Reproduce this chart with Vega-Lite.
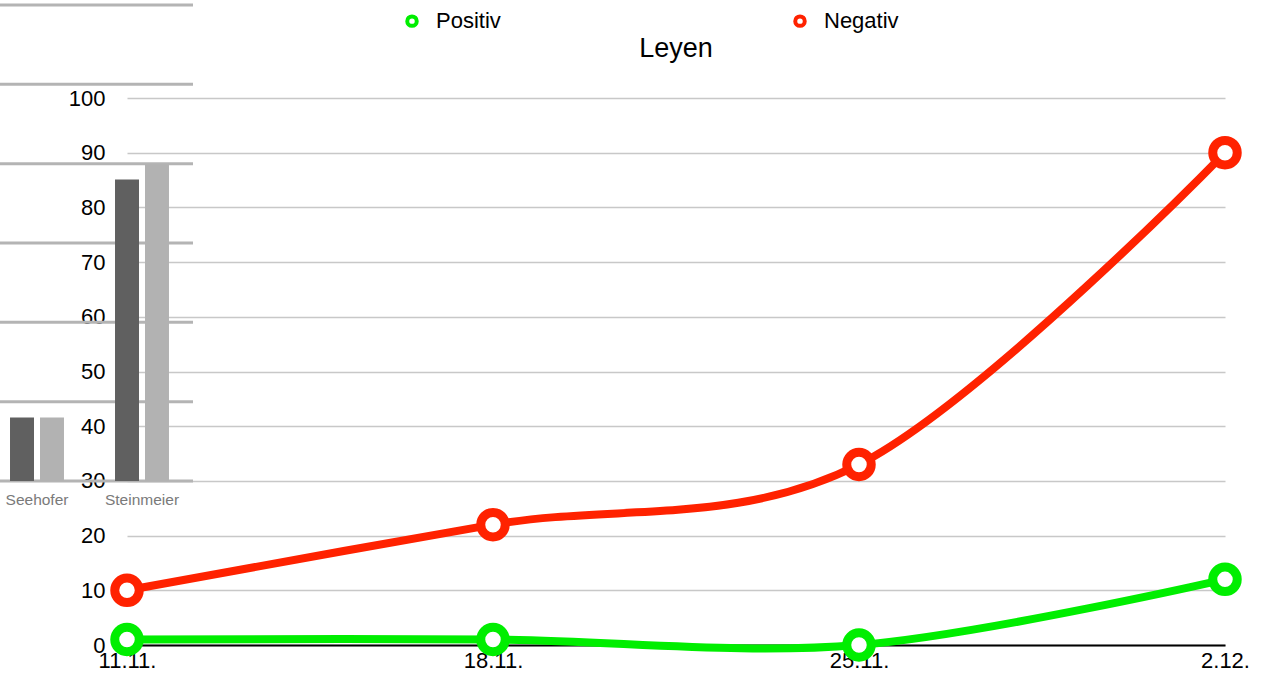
{
  "$schema": "https://vega.github.io/schema/vega-lite/v6.json",
  "width": 1098,
  "height": 547,
  "autosize": {"type": "none"},
  "padding": {"left": 127, "top": 98, "right": 56, "bottom": 39},
  "background": "white",
  "config": {"font": "Liberation Sans", "view": {"stroke": null}},
  "title": {"text": "Leyen", "fontSize": 27, "fontWeight": "normal", "color": "black", "font": "Liberation Sans", "baseline": "alphabetic", "frame": "group", "anchor": "middle", "offset": -80},
  "datasets": {
    "grid": [{"g": 0}, {"g": 20}, {"g": 40}, {"g": 60}, {"g": 80}, {"g": 100}, {"g": 120}],
    "bars": [
      {"name": "Seehofer", "series": "A", "value": 16},
      {"name": "Seehofer", "series": "B", "value": 16},
      {"name": "Steinmeier", "series": "A", "value": 76},
      {"name": "Steinmeier", "series": "B", "value": 80}
    ],
    "names": [{"name": "Seehofer"}, {"name": "Steinmeier"}],
    "lines": [
      {"date": "11.11.", "series": "Positiv", "value": 1},
      {"date": "18.11.", "series": "Positiv", "value": 1},
      {"date": "25.11.", "series": "Positiv", "value": 0},
      {"date": "2.12.", "series": "Positiv", "value": 12},
      {"date": "11.11.", "series": "Negativ", "value": 10},
      {"date": "18.11.", "series": "Negativ", "value": 22},
      {"date": "25.11.", "series": "Negativ", "value": 33},
      {"date": "2.12.", "series": "Negativ", "value": 90}
    ]
  },
  "layer": [
    {
      "layer": [
        {
          "data": {"name": "grid"},
          "mark": {"type": "rule", "color": "#b4b4b4", "strokeWidth": 3, "clip": false},
          "encoding": {
            "x": {"datum": 0, "type": "quantitative", "scale": {"domain": [0, 1], "range": [-127, 66]}, "axis": null},
            "x2": {"datum": 1},
            "y": {"field": "g", "type": "quantitative", "scale": {"domain": [0, 120], "range": [383, -93], "nice": false, "zero": true}, "axis": null}
          }
        },
        {
          "data": {"name": "bars"},
          "mark": {"type": "bar", "clip": false},
          "encoding": {
            "x": {"field": "name", "type": "nominal", "scale": {"domain": ["Seehofer", "Steinmeier"], "range": [-142.5, 67.5], "paddingInner": 0.486, "paddingOuter": 0.243}, "axis": null},
            "xOffset": {"field": "series", "type": "nominal", "scale": {"paddingInner": 0.2, "paddingOuter": 0}},
            "y": {"field": "value", "type": "quantitative", "scale": {"domain": [0, 120], "range": [383, -93], "nice": false, "zero": true}, "axis": null},
            "color": {"field": "series", "type": "nominal", "scale": {"domain": ["A", "B"], "range": ["#606060", "#b2b2b2"]}, "legend": null}
          }
        },
        {
          "data": {"name": "names"},
          "mark": {"type": "text", "dy": 19, "fontSize": 15.5, "color": "#7a7a7a", "baseline": "middle", "clip": false},
          "encoding": {
            "x": {"field": "name", "type": "nominal", "scale": {"domain": ["Seehofer", "Steinmeier"], "range": [-142.5, 67.5], "paddingInner": 0.486, "paddingOuter": 0.243}, "axis": null},
            "y": {"datum": 0, "type": "quantitative", "scale": {"domain": [0, 120], "range": [383, -93], "nice": false, "zero": true}, "axis": null},
            "text": {"field": "name"}
          }
        }
      ],
      "resolve": {"scale": {"x": "independent", "color": "independent"}}
    },
    {
      "data": {"name": "lines"},
      "encoding": {
        "x": {"field": "date", "type": "ordinal", "sort": ["11.11.", "18.11.", "25.11.", "2.12."], "scale": {"type": "point", "padding": 0},
          "axis": {"title": null, "labelAngle": 0, "domainColor": "black", "domainWidth": 2, "ticks": false, "labelFontSize": 22, "labelColor": "black", "labelPadding": 5, "grid": false, "labelFont": "Liberation Sans"}},
        "y": {"field": "value", "type": "quantitative", "scale": {"domain": [0, 100], "nice": false},
          "axis": {"title": null, "values": [0, 10, 20, 30, 40, 50, 60, 70, 80, 90, 100], "domain": false, "ticks": false, "grid": true, "labelFontSize": 22, "labelColor": "black", "labelPadding": 22, "gridColor": "#c8c8c8", "gridWidth": 1.5, "labelFont": "Liberation Sans"}},
        "color": {"field": "series", "type": "nominal", "scale": {"domain": ["Positiv", "Negativ"], "range": ["#00ee00", "#ff2200"]},
          "legend": {"title": null, "orient": "none", "legendX": 274, "legendY": -88, "direction": "horizontal", "columns": 2, "symbolType": "circle", "symbolFillColor": "white", "symbolStrokeWidth": 4, "symbolSize": 90, "labelFontSize": 22, "labelColor": "black", "labelOffset": 13, "columnPadding": 286, "padding": 0, "labelFont": "Liberation Sans"}}
      },
      "layer": [
        {"mark": {"type": "line", "interpolate": "cardinal", "strokeWidth": 8}},
        {"mark": {"type": "point", "shape": "circle", "filled": false, "fill": "white", "fillOpacity": 1, "size": 600, "strokeWidth": 9, "opacity": 1}}
      ]
    }
  ],
  "resolve": {"scale": {"x": "independent", "y": "independent", "color": "independent"}}
}
